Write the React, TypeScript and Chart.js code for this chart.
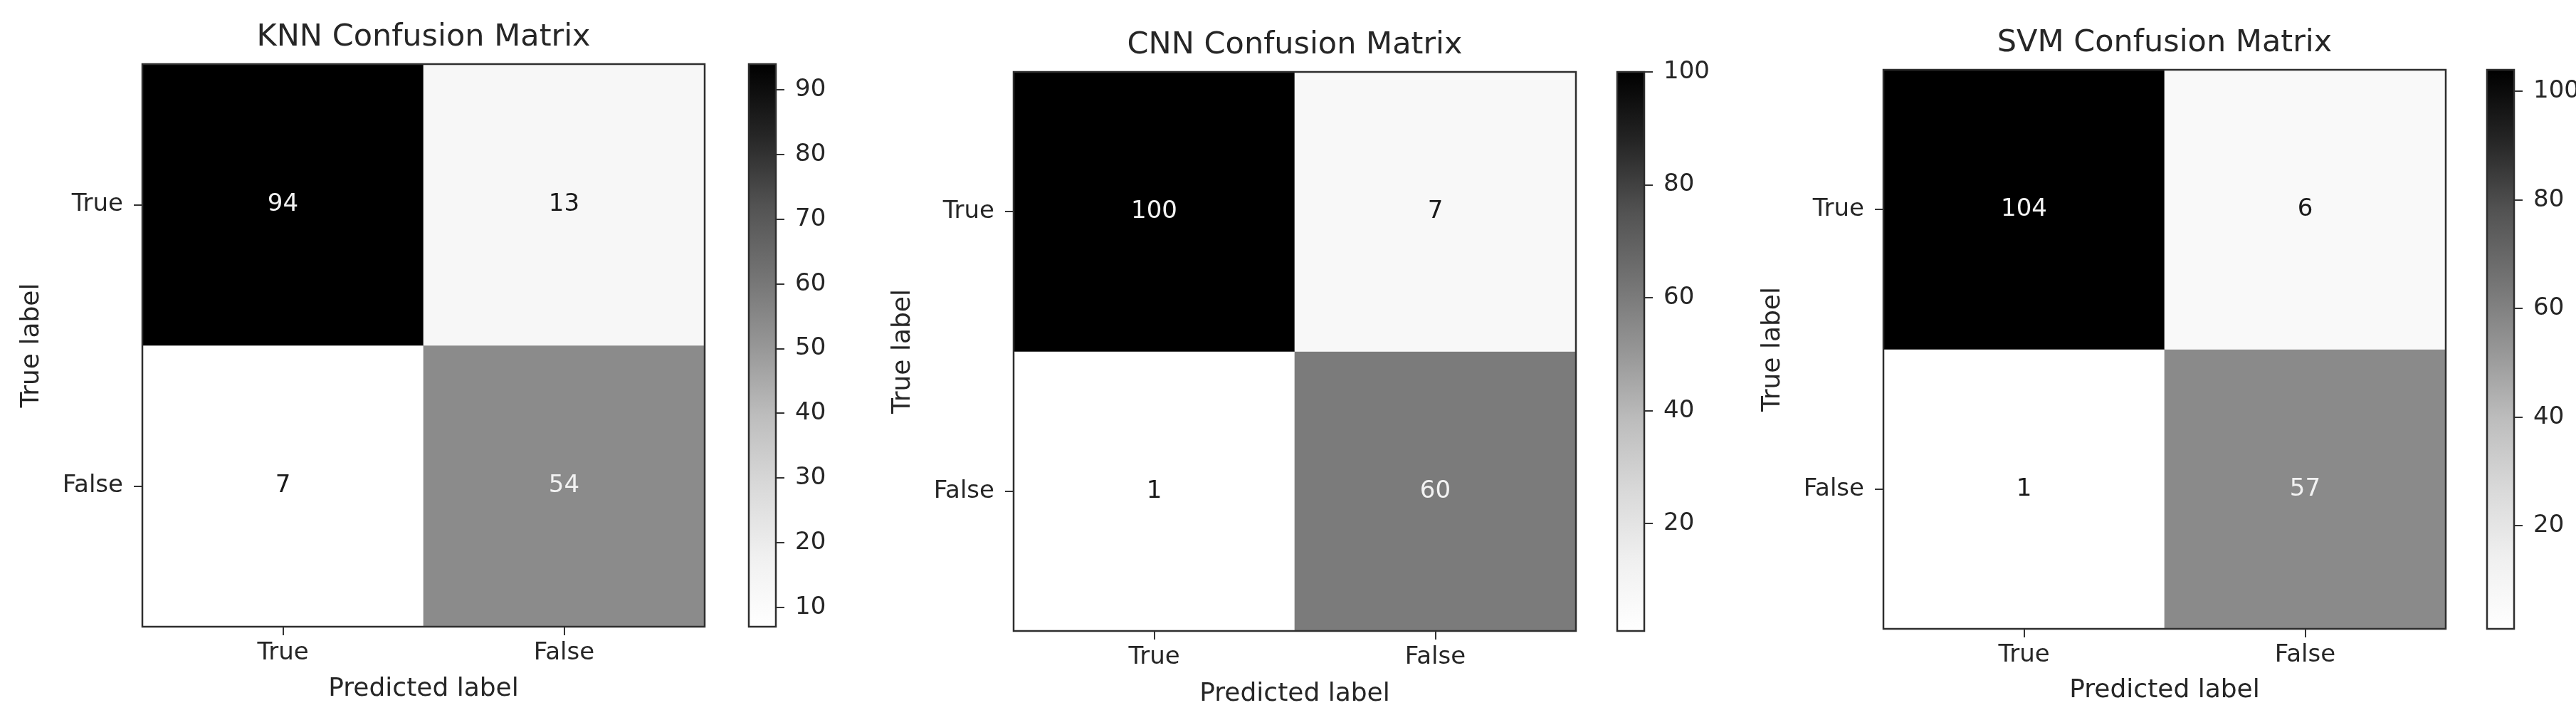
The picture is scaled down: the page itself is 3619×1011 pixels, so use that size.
import React, { useEffect, useRef } from 'react';
import { Chart, registerables } from 'chart.js';

Chart.register(...registerables);

// ---------------- data ----------------
const CLASS_LABELS = ['True', 'False'];
const KNN_TRUE_ROW = [94, 13];
const KNN_FALSE_ROW = [7, 54];
const CNN_TRUE_ROW = [100, 7];
const CNN_FALSE_ROW = [1, 60];
const SVM_TRUE_ROW = [104, 6];
const SVM_FALSE_ROW = [1, 57];
const KNN_CBAR_TICKS = [10, 20, 30, 40, 50, 60, 70, 80, 90];
const CNN_CBAR_TICKS = [20, 40, 60, 80, 100];
const SVM_CBAR_TICKS = [20, 40, 60, 80, 100];
const PANEL_TITLES = ['KNN Confusion Matrix', 'CNN Confusion Matrix', 'SVM Confusion Matrix'];
const X_AXIS_TITLE = 'Predicted label';
const Y_AXIS_TITLE = 'True label';

// matplotlib "Greys" colormap (grey level at 9 evenly spaced stops)
const GREYS_STOPS = [255, 240, 217, 189, 150, 115, 82, 37, 0];

const PANELS = [
  { title: PANEL_TITLES[0], rows: [KNN_TRUE_ROW, KNN_FALSE_ROW], cbarTicks: KNN_CBAR_TICKS },
  { title: PANEL_TITLES[1], rows: [CNN_TRUE_ROW, CNN_FALSE_ROW], cbarTicks: CNN_CBAR_TICKS },
  { title: PANEL_TITLES[2], rows: [SVM_TRUE_ROW, SVM_FALSE_ROW], cbarTicks: SVM_CBAR_TICKS },
];

// ---------------- layout / style ----------------
const H = 1011;
const Y_AXIS_BOX = 200;
const LAYOUTS = [
  { plotLeft: 200, plotRight: 990, plotTop: 90, plotBottom: 880, titleY: 53, xTitleY: 968, cbarLeft: 1052, cbarRight: 1090 },
  { plotLeft: 1424, plotRight: 2214, plotTop: 101, plotBottom: 886, titleY: 64, xTitleY: 975, cbarLeft: 2272, cbarRight: 2310 },
  { plotLeft: 2646, plotRight: 3436, plotTop: 98, plotBottom: 883, titleY: 61, xTitleY: 970, cbarLeft: 3494, cbarRight: 3532 },
];
const FONT = '"DejaVu Sans", "Liberation Sans", sans-serif';
const TEXT = '#262626';
const TICK = '#333333';
const FRAME = '#2e2e2e';
const TITLE_SIZE = 43;
const TICK_SIZE = 34;
const LABEL_SIZE = 36;
const CB_CANVAS_W = 220;

function greys(t: number): string {
  const c = Math.max(0, Math.min(1, t)) * (GREYS_STOPS.length - 1);
  const i = Math.min(Math.floor(c), GREYS_STOPS.length - 2);
  const f = c - i;
  const g = Math.round(GREYS_STOPS[i] + (GREYS_STOPS[i + 1] - GREYS_STOPS[i]) * f);
  return `rgb(${g},${g},${g})`;
}

const framePlugin = {
  id: 'frame',
  afterDatasetsDraw(chart: any) {
    const { ctx, chartArea: a } = chart;
    ctx.save();
    ctx.strokeStyle = FRAME;
    ctx.lineWidth = 2.5;
    ctx.strokeRect(a.left, a.top, a.right - a.left, a.bottom - a.top);
    ctx.restore();
  },
};

function annotationPlugin(rows: number[][], thresh: number) {
  return {
    id: 'cellText',
    afterDatasetsDraw(chart: any) {
      const { ctx } = chart;
      ctx.save();
      ctx.font = `${TICK_SIZE}px ${FONT}`;
      ctx.textAlign = 'center';
      ctx.textBaseline = 'middle';
      rows.forEach((row, r) => {
        const meta = chart.getDatasetMeta(r);
        meta.data.forEach((el: any, c: number) => {
          const p = el.getCenterPoint();
          const v = row[c];
          ctx.fillStyle = v < thresh ? '#1a1a1a' : '#f2f2f2';
          ctx.fillText(String(v), p.x, p.y);
        });
      });
      ctx.restore();
    },
  };
}

export default function App() {
  const heatRefs = useRef<(HTMLCanvasElement | null)[]>([]);
  const cbarRefs = useRef<(HTMLCanvasElement | null)[]>([]);

  useEffect(() => {
    const charts: Chart[] = [];
    PANELS.forEach((panel, i) => {
      const L = LAYOUTS[i];
      const vals = panel.rows.flat();
      const vmin = Math.min(...vals);
      const vmax = Math.max(...vals);
      const thresh = (vmin + vmax) / 2;
      const canvasLeft = L.plotLeft - Y_AXIS_BOX;
      const width = 2 * ((L.plotLeft + L.plotRight) / 2 - canvasLeft);
      const titleLH = TITLE_SIZE * 1.2;
      const labelLH = LABEL_SIZE * 1.2;
      const titleTopPad = L.titleY - titleLH / 2;

      const heat = new Chart(heatRefs.current[i] as HTMLCanvasElement, {
        type: 'bar',
        data: {
          labels: CLASS_LABELS,
          datasets: panel.rows.map((row, r) => ({
            label: CLASS_LABELS[r],
            data: row.map(() => [r - 0.5, r + 0.5]),
            backgroundColor: row.map((v) => greys((v - vmin) / (vmax - vmin))),
            borderWidth: 0,
            barPercentage: 1,
            categoryPercentage: 1,
            grouped: false,
          })) as any,
        },
        options: {
          responsive: false,
          animation: false,
          devicePixelRatio: 1,
          layout: { padding: { left: 0, top: 0, bottom: 0, right: width - (L.plotRight - canvasLeft) } },
          plugins: {
            legend: { display: false },
            tooltip: { enabled: false },
            title: {
              display: true,
              fullSize: false,
              text: panel.title,
              color: TEXT,
              font: { family: FONT, size: TITLE_SIZE, weight: 'normal', lineHeight: 1.2 },
              padding: { top: titleTopPad, bottom: L.plotTop - titleTopPad - titleLH },
            },
          },
          scales: {
            x: {
              type: 'category',
              offset: true,
              grid: { offset: false, drawOnChartArea: false, tickLength: 12, lineWidth: 2, color: TICK },
              border: { display: false },
              ticks: { font: { family: FONT, size: TICK_SIZE }, color: TEXT, padding: 5, maxRotation: 0, autoSkip: false },
              title: {
                display: true,
                text: X_AXIS_TITLE,
                color: TEXT,
                font: { family: FONT, size: LABEL_SIZE, lineHeight: 1.2 },
                padding: { top: 0, bottom: H - labelLH / 2 - L.xTitleY },
              },
              afterFit: (s: any) => { s.height = H - L.plotBottom; },
            },
            y: {
              type: 'linear',
              min: -0.5,
              max: 1.5,
              reverse: true,
              afterBuildTicks: (s: any) => { s.ticks = CLASS_LABELS.map((_, k) => ({ value: k })); },
              ticks: {
                callback: (v: any) => CLASS_LABELS[Number(v)] ?? '',
                font: { family: FONT, size: TICK_SIZE },
                color: TEXT,
                padding: 15,
              },
              grid: { drawOnChartArea: false, tickLength: 12, lineWidth: 2, color: TICK },
              border: { display: false },
              title: {
                display: true,
                text: Y_AXIS_TITLE,
                color: TEXT,
                font: { family: FONT, size: LABEL_SIZE, lineHeight: 1.2 },
                padding: { top: 45 - labelLH / 2, bottom: 0 },
              },
              afterFit: (s: any) => { s.width = Y_AXIS_BOX; },
            },
          },
        } as any,
        plugins: [framePlugin, annotationPlugin(panel.rows, thresh)],
      });
      charts.push(heat);

      const cbW = L.cbarRight - L.cbarLeft;
      const cbar = new Chart(cbarRefs.current[i] as HTMLCanvasElement, {
        type: 'bar',
        data: {
          labels: [''],
          datasets: [
            {
              data: [[vmin, vmax]],
              backgroundColor: (ctx: any) => {
                const chart = ctx.chart;
                const a = chart.chartArea;
                if (!a) return '#888';
                const g = chart.ctx.createLinearGradient(0, a.bottom, 0, a.top);
                GREYS_STOPS.forEach((v, k) => g.addColorStop(k / (GREYS_STOPS.length - 1), `rgb(${v},${v},${v})`));
                return g;
              },
              borderWidth: 0,
              barPercentage: 1,
              categoryPercentage: 1,
            },
          ] as any,
        },
        options: {
          responsive: false,
          animation: false,
          devicePixelRatio: 1,
          layout: { padding: { left: 10, right: 0, top: L.plotTop, bottom: H - L.plotBottom } },
          plugins: { legend: { display: false }, tooltip: { enabled: false }, title: { display: false } },
          scales: {
            x: { display: false },
            y: {
              position: 'right',
              min: vmin,
              max: vmax,
              afterBuildTicks: (s: any) => { s.ticks = panel.cbarTicks.map((v) => ({ value: v })); },
              ticks: { font: { family: FONT, size: TICK_SIZE }, color: TEXT, padding: 15 },
              grid: { drawOnChartArea: false, tickLength: 12, lineWidth: 2, color: TICK },
              border: { display: false },
              afterFit: (s: any) => { s.width = CB_CANVAS_W - 10 - cbW; },
            },
          },
        } as any,
        plugins: [framePlugin],
      });
      charts.push(cbar);
    });
    return () => charts.forEach((c) => c.destroy());
  }, []);

  return (
    <div style={{ position: 'fixed', left: 0, top: 0, width: 3619, height: H, overflow: 'hidden', background: '#fff' }}>
      {PANELS.map((_, i) => {
        const L = LAYOUTS[i];
        const left = L.plotLeft - Y_AXIS_BOX;
        const w = 2 * ((L.plotLeft + L.plotRight) / 2 - left);
        return (
          <React.Fragment key={i}>
            <canvas
              ref={(el) => { heatRefs.current[i] = el; }}
              width={w}
              height={H}
              style={{ position: 'absolute', left, top: 0, width: w, height: H }}
            />
            <canvas
              ref={(el) => { cbarRefs.current[i] = el; }}
              width={CB_CANVAS_W}
              height={H}
              style={{ position: 'absolute', left: L.cbarLeft - 10, top: 0, width: CB_CANVAS_W, height: H }}
            />
          </React.Fragment>
        );
      })}
    </div>
  );
}
